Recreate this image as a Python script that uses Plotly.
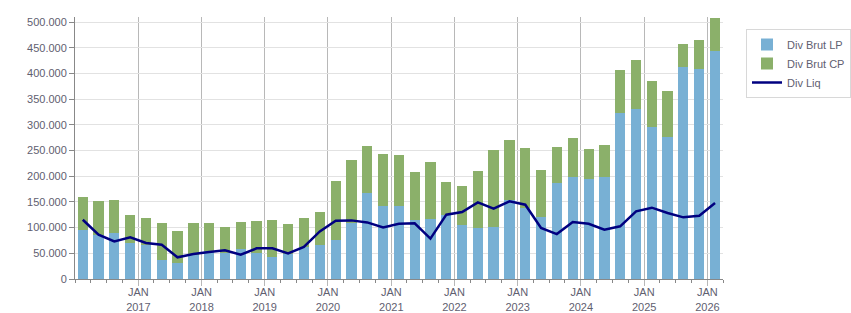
import pandas as pd
import plotly.graph_objects as go

quarters = [f"{y}Q{q}" for y in range(2016, 2026) for q in range(1, 5)] + ["2026Q1"]

div_brut_lp = [96000, 86300, 89500, 70000,
               66100, 37600, 31100, 47300,
               53800, 50600, 58400, 50600,
               43400, 48600, 61600, 66100,
               76500, 109000, 168000, 142700,
               142700, 115400, 117400, 125200,
               105100, 99900, 101200, 154300,
               138100, 121300, 187400, 199100,
               193900, 197800, 323600, 330100,
               295100, 276900, 413100, 409200,
               444200]

div_brut_cp = [63500, 66100, 64800, 55200,
               53200, 72000, 62900, 62300,
               55800, 51200, 53100, 62900,
               72000, 59000, 57700, 64900,
               114800, 123200, 91400, 101100,
               99200, 93400, 110900, 64200,
               76500, 110900, 150400, 116800,
               117400, 91400, 70000, 75900,
               59700, 63500, 83700, 96600,
               90800, 89500, 44700, 56400,
               64200]

div_liq = [115400, 86300, 73300, 81000,
           70000, 66800, 42200, 48600,
           52500, 55800, 47300, 59700,
           59700, 49900, 62300, 92700,
           113500, 114100, 110200, 100500,
           107600, 108300, 78500, 125200,
           130300, 149200, 136800, 151100,
           144600, 99200, 87500, 110900,
           107600, 96000, 102500, 131600,
           138800, 128400, 120000, 123200,
           147900]

years = list(range(2017, 2027))
tick_labels = [f"JAN<br>{y}" for y in years]

# bar positions: middle of each quarter
periods = pd.PeriodIndex(quarters, freq="Q")
x = [p.start_time + (p.end_time - p.start_time) / 2 for p in periods]
x = [d.strftime("%Y-%m-%d") for d in x]
tickvals = [f"{y}-01-01" for y in years]

FONT = "Liberation Sans, Arial, sans-serif"
TXT = "#5f6070"

fig = go.Figure()
fig.add_trace(go.Bar(x=x, y=div_brut_lp, name="Div Brut LP", marker_color="#78b0d4",
                     marker_line_width=0))
fig.add_trace(go.Bar(x=x, y=div_brut_cp, name="Div Brut CP", marker_color="#8bb06a",
                     marker_line_width=0))
fig.add_trace(go.Scatter(x=x, y=div_liq, name="Div Liq", mode="lines",
                         line=dict(color="#000080", width=2.5)))

fig.update_layout(
    width=851, height=313,
    margin=dict(l=75, r=128, t=17, b=34),
    barmode="stack", bargap=0.35,
    plot_bgcolor="white", paper_bgcolor="white",
    separators=",.",
    font=dict(family=FONT, size=11, color=TXT),
    legend=dict(xref="container", yref="container",
                x=746 / 851, y=1 - 29 / 313, xanchor="left", yanchor="top",
                bordercolor="#d8d8d8", borderwidth=1, bgcolor="white",
                font=dict(size=11, color=TXT), itemwidth=30,
                traceorder="normal", tracegroupgap=0),
    showlegend=True,
)
fig.update_xaxes(
    type="date", range=["2016-01-01", "2026-04-01"],
    tickvals=tickvals, ticktext=tick_labels,
    showgrid=True, gridcolor="#b8b8b8", gridwidth=1,
    showline=True, linecolor="#888888", linewidth=1,
    ticks="outside", ticklen=6, tickcolor="#b8b8b8",
    ticklabelstandoff=-3,
    minor=dict(dtick="M3", tick0="2016-01-01", ticks="outside", ticklen=3,
               tickcolor="#888888", showgrid=False),
    tickfont=dict(size=11, color=TXT),
    zeroline=False, automargin=False,
)
fig.update_yaxes(
    range=[0, 510000], dtick=50000, tick0=0, tickformat=",.0f",
    showgrid=True, gridcolor="#e2e2e2", gridwidth=1,
    showline=True, linecolor="#888888", linewidth=1,
    ticks="outside", ticklen=5, tickcolor="#888888",
    tickfont=dict(size=11, color=TXT),
    zeroline=False, automargin=False,
)

fig.write_html("out.html")
